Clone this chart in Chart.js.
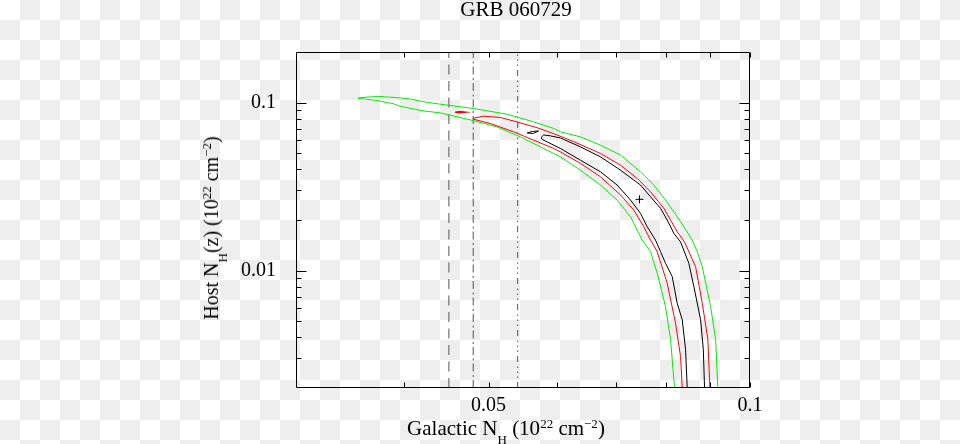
<!DOCTYPE html>
<html>
<head>
<meta charset="utf-8">
<script src="https://cdn.jsdelivr.net/npm/chart.js@4.4.1/dist/chart.umd.min.js"></script>
<style>
html,body{margin:0;padding:0;background:#fff;}
body{width:960px;height:444px;overflow:hidden;font-family:'Liberation Serif','Times New Roman',serif;color:#000;}
#wrap{position:relative;width:960px;height:444px;}
canvas{position:absolute;left:0;top:0;}
.t{position:absolute;white-space:nowrap;}
.s{font-size:13px;position:relative;line-height:0;vertical-align:baseline;}
</style>
</head>
<body>
<div id="wrap">
<canvas id="bg" width="960" height="444"></canvas>
<canvas id="c" width="960" height="444"></canvas>
<div class="t" id="title" style="left:316px;width:400px;top:-3px;text-align:center;font-size:21px;line-height:24px;">GRB 060729</div>
<div class="t" id="xtitle" style="left:306px;width:400px;text-align:center;top:418px;font-size:21px;line-height:21px;">Galactic N<span class="s" style="top:9px">H</span> (10<span class="s" style="top:-7px">22</span> cm<span class="s" style="top:-7px">−2</span>)</div>
<div class="t" id="ytitle" style="left:211px;top:227.5px;font-size:20px;line-height:20px;transform:translate(-50%,-50%) rotate(-90deg);">Host N<span class="s" style="top:9px">H</span>(z) (10<span class="s" style="top:-7px">22</span> cm<span class="s" style="top:-7px">−2</span>)</div>
</div>
<script>
// ---- axis ranges and ticks ----
const xMin = 0.03, xMax = 0.1;
const yMin = 0.002, yMax = 0.2;
const xTickValues = [0.05, 0.1];
const xTickLabels = ['0.05', '0.1'];
const xMinorTicks = [0.04, 0.06, 0.07, 0.08, 0.09];
const yTickValues = [0.01, 0.1];
const yTickLabels = ['0.01', '0.1'];
const yMinorTicks = [0.003, 0.004, 0.005, 0.006, 0.007, 0.008, 0.009, 0.02, 0.03, 0.04, 0.05, 0.06, 0.07, 0.08, 0.09];

// ---- confidence contours (Galactic NH, Host NH), 10^22 cm^-2 ----
const green99X = [0.08197, 0.08186, 0.08171, 0.0810, 0.07993, 0.07818, 0.07681, 0.07514, 0.07445, 0.07284, 0.07030, 0.06726, 0.06378, 0.06048, 0.05735, 0.05438, 0.05111, 0.04804, 0.04515, 0.04397, 0.04189, 0.03954, 0.03882, 0.03701, 0.03556, 0.03537, 0.03556, 0.03681, 0.0375, 0.03902, 0.04061, 0.04189, 0.04397, 0.04804, 0.05249, 0.05634, 0.05942, 0.06048, 0.06378, 0.06726, 0.07093, 0.0748, 0.07748, 0.07993, 0.08318, 0.08565, 0.08694, 0.08811, 0.09008, 0.09128, 0.09183, 0.09188];
const green99Y = [0.0017, 0.0020, 0.00225, 0.0039, 0.00611, 0.00965, 0.01296, 0.0152, 0.01667, 0.02092, 0.0263, 0.0323, 0.0396, 0.04754, 0.0545, 0.06254, 0.07168, 0.07805, 0.0841, 0.08682, 0.08946, 0.09516, 0.09847, 0.1033, 0.1057, 0.1061, 0.1069, 0.1083, 0.1086, 0.1072, 0.1051, 0.1015, 0.0978, 0.0922, 0.0853, 0.07674, 0.07012, 0.06694, 0.06254, 0.0558, 0.0487, 0.03873, 0.0323, 0.0263, 0.01954, 0.01543, 0.01296, 0.01056, 0.00611, 0.0039, 0.0020, 0.0017];

const red90X = [0.08374, 0.08355, 0.08318, 0.08208, 0.08028, 0.07818, 0.07681, 0.07546, 0.07348, 0.07093, 0.06726, 0.06378, 0.06048, 0.05942, 0.05634, 0.05343, 0.05022, 0.04804, 0.04794, 0.04804, 0.04934, 0.05157, 0.0539, 0.05684, 0.05942, 0.06266, 0.06726, 0.07093, 0.07414, 0.07681, 0.07957, 0.08244, 0.08406, 0.08656, 0.08811, 0.08942, 0.08991, 0.08996];
const red90Y = [0.0017, 0.0020, 0.00308, 0.00487, 0.00841, 0.01296, 0.0152, 0.01825, 0.0229, 0.0282, 0.03618, 0.04346, 0.0509, 0.05334, 0.0597, 0.06694, 0.0751, 0.07964, 0.0802, 0.08075, 0.08298, 0.08152, 0.07674, 0.07088, 0.06531, 0.05854, 0.0498, 0.0424, 0.03538, 0.02946, 0.02347, 0.01704, 0.0148, 0.01056, 0.0064, 0.0039, 0.0020, 0.0017];
const red90IslandX = [0.04575, 0.04637, 0.04699, 0.04637, 0.04575];
const red90IslandY = [0.08766, 0.08838, 0.08766, 0.08694, 0.08766];

const black68X = [0.08473, 0.08466, 0.08429, 0.08355, 0.08244, 0.08136, 0.07993, 0.07888, 0.07783, 0.07613, 0.0748, 0.07284, 0.0703, 0.06726, 0.06378, 0.06048, 0.05942, 0.05761, 0.0575, 0.05785, 0.0589, 0.06048, 0.06378, 0.06726, 0.07093, 0.0748, 0.07681, 0.07888, 0.08028, 0.08171, 0.08318, 0.08502, 0.08617, 0.08772, 0.08835, 0.08865, 0.08871];
const black68Y = [0.0017, 0.0020, 0.0034, 0.0051, 0.0064, 0.00921, 0.01106, 0.01296, 0.0152, 0.01825, 0.02192, 0.0263, 0.0323, 0.03873, 0.0454, 0.05334, 0.0558, 0.06036, 0.06226, 0.06416, 0.06338, 0.06158, 0.0545, 0.04754, 0.0396, 0.0323, 0.0275, 0.02347, 0.0200, 0.01667, 0.0148, 0.01106, 0.00803, 0.0051, 0.0034, 0.0020, 0.0017];
const black68IslandX = [0.05539, 0.05615, 0.05708, 0.0563, 0.05539];
const black68IslandY = [0.06594, 0.0673, 0.06776, 0.0655, 0.06594];

const bestFitX = [0.0746];
const bestFitY = [0.02655];

// Galactic NH reference values (vertical lines)
const refLineValues = [0.045, 0.048, 0.054];
const refLineDashes = [[10, 6.5], [8, 3, 2, 3.5], [6, 4, 1.5, 3.5, 1.5, 3.5, 1.5, 4.5]];

// ---- checkerboard page background (as in the reference image) ----
(function () {
  const b = document.getElementById('bg').getContext('2d');
  b.fillStyle = '#ffffff';
  b.fillRect(0, 0, 960, 444);
  b.fillStyle = '#eeeeee';
  for (let r = 0; r * 20 < 444; r++) {
    for (let c = 0; c * 20 < 960; c++) {
      if ((r + c) % 2 === 1) b.fillRect(c * 20, r * 20, 20, 20);
    }
  }
})();

const pts = (xs, ys) => xs.map((v, i) => ({x: v, y: ys[i]}));
const lineDs = (xs, ys, color, extra) => Object.assign({
  data: pts(xs, ys), showLine: true, borderColor: color, backgroundColor: color,
  borderWidth: 1, pointRadius: 0, fill: false, tension: 0, clip: 0
}, extra || {});

const datasets = [
  lineDs(black68X, black68Y, '#000000'),
  lineDs(black68IslandX, black68IslandY, '#000000'),
  lineDs(red90X, red90Y, '#ff0000'),
  lineDs(red90IslandX, red90IslandY, '#ff0000', {borderWidth: 1.5}),
  lineDs(green99X, green99Y, '#00ee00'),
  {data: pts(bestFitX, bestFitY), showLine: false, pointStyle: 'cross', pointRadius: 4, borderColor: '#000', borderWidth: 1, clip: 0},
  ...refLineValues.map((v, i) => lineDs([v, v], [yMin, yMax], '#555555', {borderDash: refLineDashes[i]}))
];

const frameTicks = {
  id: 'frameTicks',
  afterDraw(chart) {
    const {ctx, chartArea: a, scales: {x, y}} = chart;
    ctx.save();
    ctx.strokeStyle = '#000';
    ctx.lineWidth = 1;
    const L = Math.round(a.left) + 0.5, R = Math.round(a.right) - 0.5;
    const T = Math.round(a.top) + 0.5, B = Math.round(a.bottom) - 0.5;
    ctx.beginPath();
    ctx.rect(L, T, R - L, B - T);
    const xt = xTickValues.concat(xMinorTicks);
    xt.forEach(v => {
      const p = Math.round(x.getPixelForValue(v)) + 0.5;
      ctx.moveTo(p, B); ctx.lineTo(p, B - 5);
      ctx.moveTo(p, T); ctx.lineTo(p, T + 5);
    });
    const yt = yTickValues.map(v => [v, 10]).concat(yMinorTicks.map(v => [v, 5]));
    yt.forEach(([v, len]) => {
      const p = Math.round(y.getPixelForValue(v)) + 0.5;
      ctx.moveTo(L, p); ctx.lineTo(L + len, p);
      ctx.moveTo(R, p); ctx.lineTo(R - len, p);
    });
    ctx.stroke();
    ctx.restore();
  }
};

const tickFont = {family: "'Liberation Serif', 'Times New Roman', serif", size: 20};

new Chart(document.getElementById('c'), {
  type: 'scatter',
  data: {datasets},
  options: {
    responsive: false,
    animation: false,
    layout: {padding: {left: 0, right: 210, top: 52, bottom: 0}},
    plugins: {legend: {display: false}, tooltip: {enabled: false}, title: {display: false}},
    scales: {
      x: {
        type: 'logarithmic', min: xMin, max: xMax,
        grid: {display: false, drawTicks: false}, border: {display: false},
        ticks: {autoSkip: false, maxRotation: 0, padding: 6, color: '#000', font: tickFont,
          callback: (v) => xTickLabels[xTickValues.indexOf(v)]},
        afterBuildTicks: (s) => { s.ticks = xTickValues.map(v => ({value: v})); },
        afterFit: (s) => { s.height = 56; }
      },
      y: {
        type: 'logarithmic', min: yMin, max: yMax,
        grid: {display: false, drawTicks: false}, border: {display: false},
        ticks: {autoSkip: false, padding: 20, color: '#000', font: tickFont,
          callback: (v) => yTickLabels[yTickValues.indexOf(v)]},
        afterBuildTicks: (s) => { s.ticks = yTickValues.map(v => ({value: v})); },
        afterFit: (s) => { s.width = 296; }
      }
    }
  },
  plugins: [frameTicks]
});
</script>
</body>
</html>
